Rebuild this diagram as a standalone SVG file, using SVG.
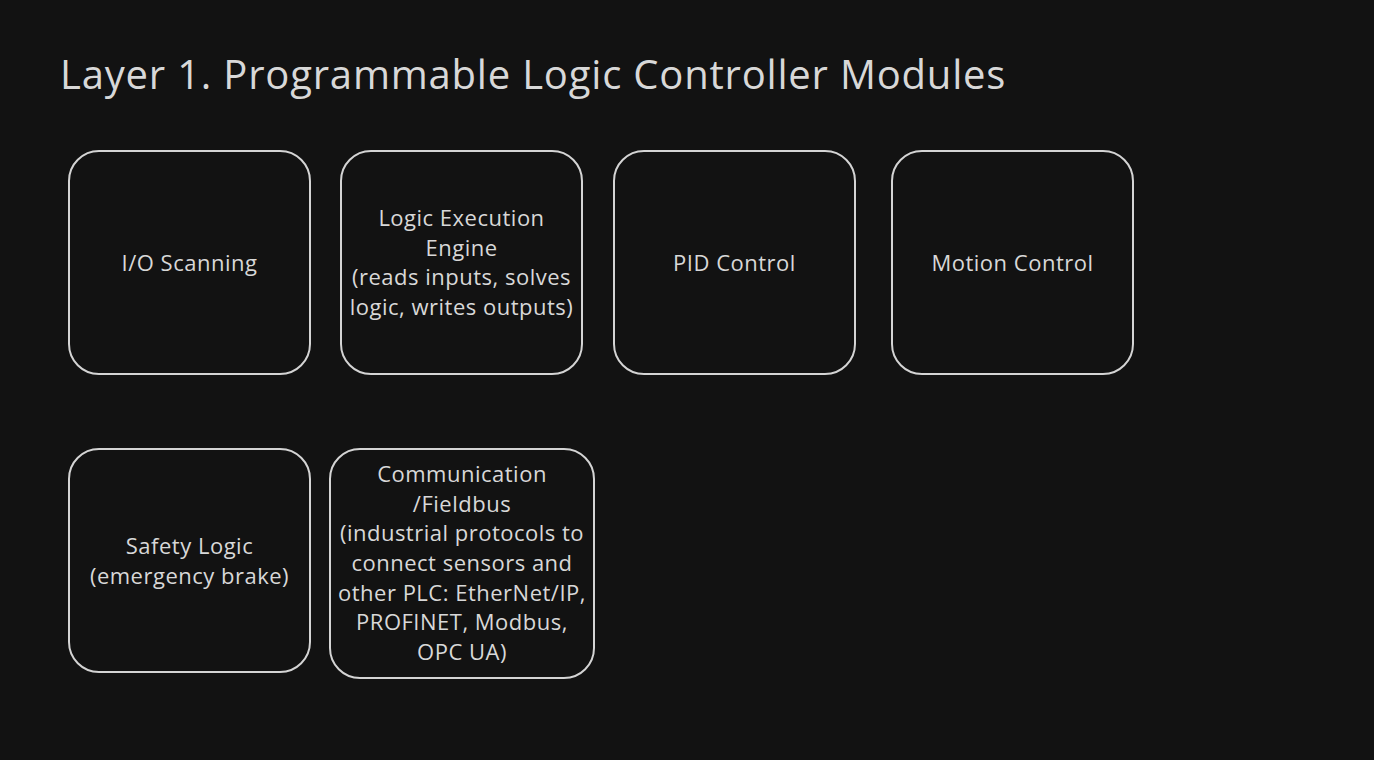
<svg xmlns="http://www.w3.org/2000/svg" width="1374" height="760" viewBox="0 0 1374 760">
<style>
.bg{fill:#121212}
.box{fill:#121212;stroke:#d4d4d4;stroke-width:2}
.t{font-family:"Open Sans",Lato,"Liberation Sans",sans-serif;font-size:22px;letter-spacing:0.5px;fill:#d8d8d8;text-anchor:middle}
.title{font-family:"Open Sans",Lato,"Liberation Sans",sans-serif;font-size:40px;letter-spacing:0.8px;fill:#d8d8d8}
</style>
<rect class="bg" x="0" y="0" width="1374" height="760"/>
<text class="title" x="60" y="89">Layer 1. Programmable Logic Controller Modules</text>
<g id="connectors"></g>
<g id="io">
<rect class="box" x="69" y="151" width="241" height="223" rx="30"/>
<text class="t" x="189.5" y="271">I/O Scanning</text>
</g>
<g id="logic">
<rect class="box" x="341" y="151" width="241" height="223" rx="30"/>
<text class="t" x="461.5" y="226">Logic Execution</text>
<text class="t" x="461.5" y="256">Engine</text>
<text class="t" x="461.5" y="285">(reads inputs, solves</text>
<text class="t" x="461.5" y="315">logic, writes outputs)</text>
</g>
<g id="pid">
<rect class="box" x="614" y="151" width="241" height="223" rx="30"/>
<text class="t" x="734.5" y="271">PID Control</text>
</g>
<g id="motion">
<rect class="box" x="892" y="151" width="241" height="223" rx="30"/>
<text class="t" x="1012.5" y="271">Motion Control</text>
</g>
<g id="safety">
<rect class="box" x="69" y="449" width="241" height="223" rx="30"/>
<text class="t" x="189.5" y="554">Safety Logic</text>
<text class="t" x="189.5" y="584">(emergency brake)</text>
</g>
<g id="comm">
<rect class="box" x="330" y="449" width="264" height="229" rx="30"/>
<text class="t" x="462" y="482">Communication</text>
<text class="t" x="462" y="512">/Fieldbus</text>
<text class="t" x="462" y="541">(industrial protocols to</text>
<text class="t" x="462" y="571">connect sensors and</text>
<text class="t" x="462" y="601">other PLC: EtherNet/IP,</text>
<text class="t" x="462" y="630">PROFINET, Modbus,</text>
<text class="t" x="462" y="660">OPC UA)</text>
</g>
</svg>
